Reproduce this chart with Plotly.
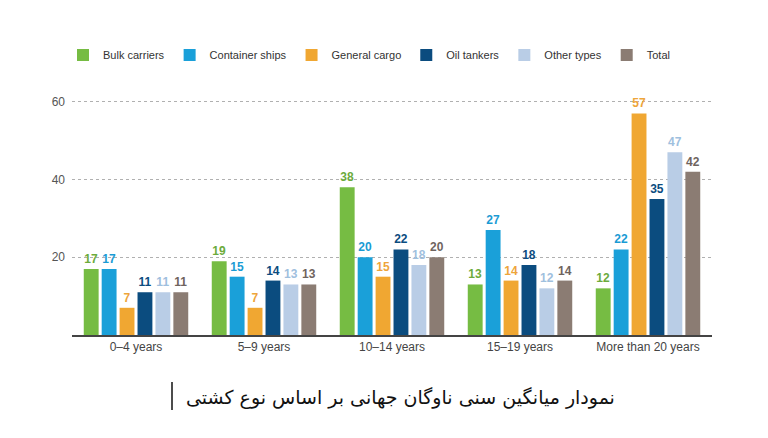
import plotly.graph_objects as go

categories = ["0–4 years", "5–9 years", "10–14 years", "15–19 years", "More than 20 years"]
series_names = ["Bulk carriers", "Container ships", "General cargo", "Oil tankers", "Other types", "Total"]
bulk = [17, 19, 38, 13, 12]
container = [17, 15, 20, 27, 22]
general = [7, 7, 15, 14, 57]
oil = [11, 14, 22, 18, 35]
other = [11, 13, 18, 12, 47]
total = [11, 13, 20, 14, 42]
values = [bulk, container, general, oil, other, total]
colors = ["#76bc43", "#1aa0d9", "#f0a732", "#0b4c7f", "#b9cde6", "#8b7c73"]
label_colors = ["#6cab3c", "#1a9bd4", "#eea53a", "#0b4c7f", "#9fc0de", "#6f645e"]
y_ticks = [20, 40, 60]
title_text = "نمودار میانگین سنی ناوگان جهانی بر اساس نوع کشتی"

PLOT_TOP, PLOT_BOTTOM, PLOT_LEFT, PLOT_RIGHT = 94, 335, 72, 712
PH = PLOT_BOTTOM - PLOT_TOP
PW = PLOT_RIGHT - PLOT_LEFT

fig = go.Figure()
for name, vals, c, lc in zip(series_names, values, colors, label_colors):
    fig.add_trace(go.Bar(
        name=name, x=categories, y=vals, marker=dict(color=c, line=dict(width=0)),
        text=[str(v) for v in vals], textposition="outside", cliponaxis=False,
        textfont=dict(color=lc, size=12, family="Liberation Sans, Arial"),
        texttemplate="<b>%{text}</b>",
    ))

fig.update_layout(
    width=768, height=438,
    margin=dict(l=PLOT_LEFT, r=768 - PLOT_RIGHT, t=PLOT_TOP, b=438 - PLOT_BOTTOM),
    paper_bgcolor="white", plot_bgcolor="white",
    barmode="group", bargap=0.16, bargroupgap=0.17,
    font=dict(family="Liberation Sans, Arial", color="#444444", size=12),
    legend=dict(orientation="h", xref="container", x=63 / 768, xanchor="left",
                yref="container", y=(438 - 55) / 438, yanchor="middle",
                font=dict(size=11, color="#333333"), itemwidth=30, traceorder="normal"),
    showlegend=True,
)
fig.update_xaxes(showgrid=False, showline=True, linecolor="#444444", linewidth=2,
                 ticks="", tickfont=dict(size=12, color="#444444"), fixedrange=True)
fig.update_yaxes(range=[0, 62], tickvals=y_ticks, showgrid=True, gridcolor="#b0b0b0",
                 griddash="dot", gridwidth=1, zeroline=False, showline=False,
                 tickfont=dict(size=12, color="#555555"), ticklabelstandoff=6)
fig.add_annotation(text=title_text, xref="paper", yref="paper", x=(400 - PLOT_LEFT) / PW,
                   y=(PLOT_BOTTOM - 397) / PH,
                   xanchor="center", yanchor="middle", showarrow=False,
                   font=dict(family="DejaVu Sans", size=19, color="#111111"))
fig.add_shape(type="line", xref="paper", yref="paper", x0=(172 - PLOT_LEFT) / PW, x1=(172 - PLOT_LEFT) / PW,
              y0=(PLOT_BOTTOM - 382) / PH, y1=(PLOT_BOTTOM - 410) / PH, line=dict(color="#111111", width=1.5))
fig.write_html("out.html")
